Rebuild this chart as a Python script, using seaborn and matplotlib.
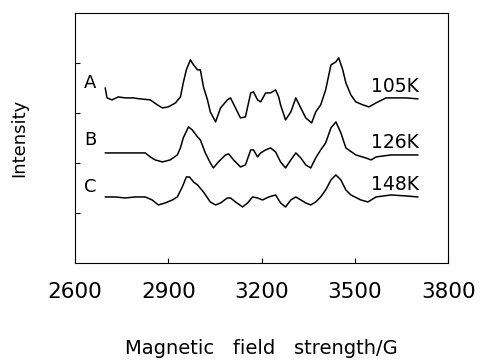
import numpy as np
import pandas as pd
import matplotlib
matplotlib.use("Agg")
import matplotlib.pyplot as plt
import seaborn as sns

# ---- data ----
field_A = [2697, 2703, 2719, 2739, 2761, 2787, 2810, 2842, 2865, 2881,
           2900, 2923, 2939, 2948, 2958, 2971, 2981, 2994, 3003, 3013,
           3026, 3035, 3052, 3068, 3090, 3100, 3116, 3132, 3148, 3165,
           3174, 3187, 3197, 3213, 3229, 3245, 3255, 3261, 3277, 3294,
           3310, 3326, 3342, 3361, 3374, 3390, 3406, 3423, 3439, 3448,
           3461, 3471, 3487, 3503, 3526, 3545, 3568, 3600, 3632, 3665, 3703]
int_A = [3.50, 3.30, 3.26, 3.32, 3.30, 3.30, 3.28, 3.26, 3.16, 3.10,
         3.12, 3.20, 3.32, 3.60, 3.86, 4.06, 3.96, 3.86, 3.86, 3.52,
         3.26, 3.02, 2.82, 3.10, 3.26, 3.30, 3.10, 2.90, 2.92, 3.40,
         3.42, 3.26, 3.22, 3.40, 3.40, 3.46, 3.32, 3.16, 2.86, 3.02,
         3.30, 3.10, 2.90, 2.80, 3.02, 3.16, 3.46, 3.96, 4.02, 4.10,
         3.86, 3.60, 3.36, 3.22, 3.16, 3.12, 3.20, 3.30, 3.30, 3.30, 3.28]

field_B = [2697, 2729, 2761, 2794, 2826, 2842, 2858, 2881, 2906, 2929,
           2939, 2948, 2965, 2977, 2994, 3003, 3019, 3035, 3045, 3061,
           3084, 3094, 3110, 3132, 3148, 3165, 3174, 3187, 3197, 3213,
           3229, 3245, 3261, 3277, 3294, 3310, 3326, 3342, 3358, 3374,
           3390, 3406, 3423, 3439, 3455, 3471, 3503, 3535, 3552, 3568,
           3616, 3703]
int_B = [2.20, 2.20, 2.20, 2.20, 2.20, 2.12, 2.06, 2.02, 2.06, 2.16,
         2.30, 2.50, 2.72, 2.66, 2.52, 2.46, 2.20, 2.00, 1.90, 2.02,
         2.16, 2.18, 2.06, 1.92, 1.96, 2.26, 2.26, 2.12, 2.20, 2.26,
         2.30, 2.22, 2.02, 1.90, 2.06, 2.20, 2.10, 1.96, 1.90, 2.10,
         2.26, 2.40, 2.70, 2.82, 2.60, 2.30, 2.16, 2.10, 2.06, 2.12,
         2.16, 2.16]

field_C = [2697, 2729, 2761, 2794, 2826, 2848, 2868, 2890, 2913, 2929,
           2945, 2958, 2968, 2981, 2994, 3013, 3035, 3052, 3068, 3090,
           3100, 3116, 3139, 3155, 3171, 3187, 3203, 3223, 3245, 3261,
           3277, 3294, 3310, 3326, 3342, 3358, 3374, 3390, 3406, 3423,
           3439, 3455, 3471, 3487, 3519, 3542, 3568, 3616, 3665, 3703]
int_C = [1.32, 1.32, 1.30, 1.32, 1.32, 1.26, 1.16, 1.20, 1.26, 1.32,
         1.52, 1.72, 1.72, 1.62, 1.56, 1.42, 1.22, 1.16, 1.20, 1.30,
         1.30, 1.22, 1.12, 1.20, 1.32, 1.30, 1.26, 1.32, 1.36, 1.20,
         1.12, 1.26, 1.32, 1.26, 1.20, 1.16, 1.22, 1.32, 1.46, 1.66,
         1.76, 1.66, 1.46, 1.36, 1.26, 1.22, 1.32, 1.36, 1.34, 1.32]

series_names = ["A", "B", "C"]
temperatures = ["105K", "126K", "148K"]
x_ticks = [2600, 2900, 3200, 3500, 3800]
y_ticks = [1, 2, 3, 4]

# ---- build table ----
frames = []
for name, f, v in zip(series_names, [field_A, field_B, field_C], [int_A, int_B, int_C]):
    frames.append(pd.DataFrame({"field": f, "intensity": v, "series": name}))
df = pd.concat(frames, ignore_index=True)

sns.set_style("ticks")
plt.rcParams["font.family"] = ["DejaVu Sans"]
plt.rcParams["text.color"] = "black"
plt.rcParams["axes.labelcolor"] = "black"
plt.rcParams["xtick.color"] = "black"
plt.rcParams["ytick.color"] = "black"

fig = plt.figure(figsize=(4.84, 3.62), dpi=100)
ax = fig.add_axes([0.155, 0.2735, 0.771, 0.691])

sns.lineplot(data=df, x="field", y="intensity", units="series", estimator=None,
             sort=False, color="black", linewidth=1.1, ax=ax, legend=False)

ax.set_xlim(2600, 3800)
ax.set_ylim(0, 5)
ax.set_xticks(x_ticks)
ax.set_xticklabels([str(t) for t in x_ticks], fontsize=15.5, color="black")
ax.set_yticks(y_ticks)
ax.set_yticklabels([])
ax.tick_params(axis="both", direction="in", length=3.5, width=0.8, color="black")
ax.tick_params(axis="x", pad=14)
for s in ax.spines.values():
    s.set_visible(True)
    s.set_linewidth(0.8)
    s.set_color("black")

ax.set_xlabel("Magnetic   field   strength/G", fontsize=14, labelpad=26, color="black")
ax.set_ylabel("Intensity", fontsize=13, labelpad=30, color="black")

# series letters and temperature labels
letter_y = [3.6, 2.46, 1.52]
temp_y = [3.52, 2.40, 1.56]
last_x = [field_A[-1], field_B[-1], field_C[-1]]
for name, ly in zip(series_names, letter_y):
    ax.text(2648, ly, name, fontsize=13, ha="center", va="center", color="black")
for t, lx, ty in zip(temperatures, last_x, temp_y):
    ax.text(lx + 3, ty, t, fontsize=13.5, ha="right", va="center", color="black")

fig.savefig("out.png", dpi=100)
